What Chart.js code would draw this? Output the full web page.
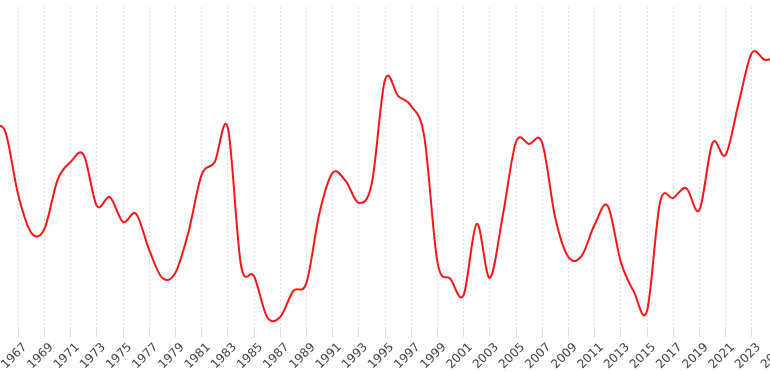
<!DOCTYPE html>
<html>
<head>
<meta charset="utf-8">
<script src="https://cdn.jsdelivr.net/npm/chart.js@4"></script>
<style>
  html, body { margin: 0; padding: 0; background: #fff; overflow: hidden; }
  /* the plot runs a little past both edges of the window */
  #wrap { position: absolute; left: -38px; top: 0; width: 836px; height: 375px; }
</style>
</head>
<body>
<div id="wrap"><canvas id="chart"></canvas></div>
<script>
/* ===============================
   Data
================================ */
const years = [
  "1965", "1966", "1967", "1968", "1969", "1970", "1971", "1972", "1973", "1974",
  "1975", "1976", "1977", "1978", "1979", "1980", "1981", "1982", "1983", "1984",
  "1985", "1986", "1987", "1988", "1989", "1990", "1991", "1992", "1993", "1994",
  "1995", "1996", "1997", "1998", "1999", "2000", "2001", "2002", "2003", "2004",
  "2005", "2006", "2007", "2008", "2009", "2010", "2011", "2012", "2013", "2014",
  "2015", "2016", "2017", "2018", "2019", "2020", "2021", "2022", "2023", "2024",
  "2025"
];

const values = [
  61.8, 61.5, 41.7, 29.9, 31.1, 46.3, 51.9, 54.1, 38.3, 41.0,
  33.3, 35.8, 24.6, 15.9, 17.5, 30.2, 47.9, 51.9, 62.5, 20.0,
  16.5, 3.8, 3.8, 11.9, 14.4, 36.1, 48.5, 46.0, 39.2, 45.4,
  77.4, 72.4, 69.3, 59.7, 20.9, 15.6, 10.6, 32.7, 15.9, 35.5,
  58.1, 57.5, 57.8, 34.5, 22.4, 22.7, 32.4, 38.3, 20.9, 11.6,
  5.7, 39.5, 40.7, 43.8, 37.0, 57.8, 54.1, 70.2, 85.7, 83.6,
  84.5
];

const yMin = 0;
const yMax = 100;

/* ===============================
   Even (Catmull-Rom) smoothing
   Chart.js weights its control points by segment length,
   which makes sharp corners on the steep jumps.
================================ */
const smoothing = 1 / 6;

const evenSpline = {
  id: "evenSpline",
  beforeDatasetsDraw(chart) {
    chart.getSortedVisibleDatasetMetas().forEach(meta => {
      const line = meta.dataset;
      if (!line) return;
      line.updateControlPoints(chart.chartArea);
      const pts = meta.data;
      pts.forEach((p, i) => {
        const prev = pts[i - 1] || p;
        const next = pts[i + 1] || p;
        const dx = (next.x - prev.x) * smoothing;
        const dy = (next.y - prev.y) * smoothing;
        p.cp1x = p.x - dx; p.cp1y = p.y - dy;
        p.cp2x = p.x + dx; p.cp2y = p.y + dy;
      });
      line._path = undefined;
    });
  }
};

/* ===============================
   Chart
================================ */
new Chart(document.getElementById("chart"), {
  type: "line",
  data: {
    labels: years,
    datasets: [{
      data: values,
      borderColor: "#ff1414",
      borderWidth: 2,
      pointRadius: 0,
      tension: 0.4,
      fill: false
    }]
  },
  options: {
    responsive: true,
    maintainAspectRatio: false,
    animation: false,
    layout: { padding: { left: 30, right: 20, top: 7, bottom: 0 } },
    plugins: {
      legend: { display: false },
      tooltip: { enabled: false }
    },
    scales: {
      x: {
        grid: { color: "rgba(0,0,0,0.13)", lineWidth: 1 },
        border: { display: false, dash: [2, 2] },
        ticks: {
          color: "#444",
          font: { family: "'DejaVu Sans', sans-serif", size: 12 },
          minRotation: 45,
          maxRotation: 45,
          labelOffset: 7,
          autoSkip: true
        }
      },
      y: {
        display: false,
        min: yMin,
        max: yMax
      }
    }
  },
  plugins: [evenSpline]
});
</script>
</body>
</html>
